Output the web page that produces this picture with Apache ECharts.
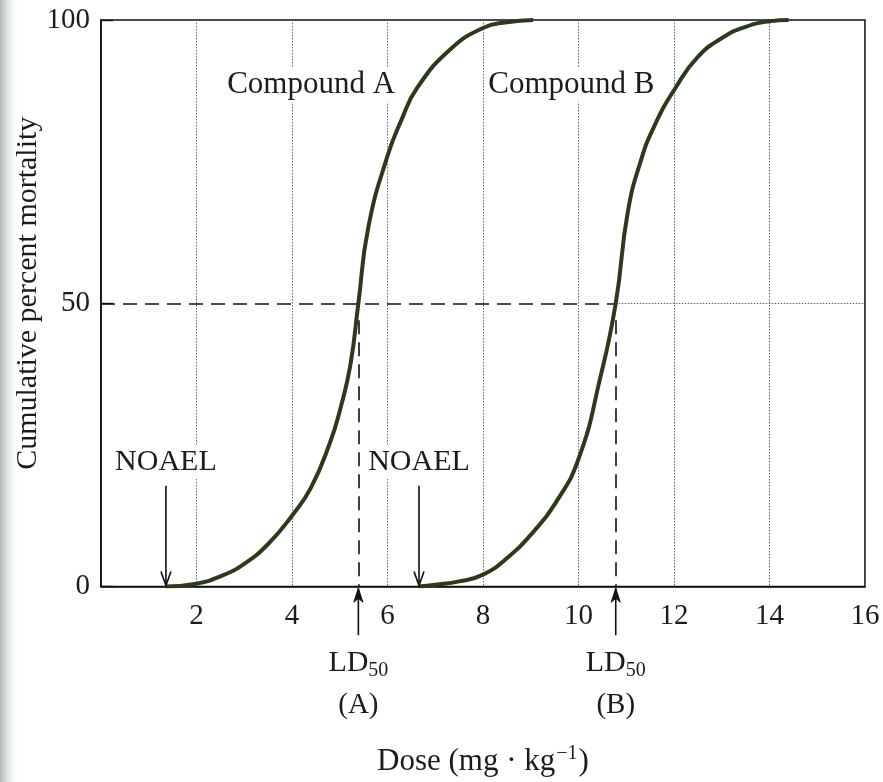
<!DOCTYPE html>
<html><head><meta charset="utf-8">
<script src="https://cdn.jsdelivr.net/npm/echarts@6/dist/echarts.min.js"></script>
<style>html,body{margin:0;padding:0;background:#fff}#c{width:883px;height:782px}</style>
</head><body><div id="c"></div>
<script>
// ---- data ----
const doseA = [1.35, 2, 2.5, 3, 3.5, 4, 4.4, 4.8, 5.0, 5.22, 5.39, 5.6, 6, 6.3, 6.62, 7.3, 8, 8.5, 9.05];
const mortA = [0, 0.5, 1.8, 4, 7.5, 12.5, 17.5, 25.5, 31, 39, 50, 63.5, 76, 82.5, 88, 94.7, 98.6, 99.6, 100];
const doseB = [6.65, 7, 7.5, 8, 8.5, 9.06, 9.5, 10, 10.46, 10.78, 11.03, 11.3, 11.6, 12.03, 12.5, 13.04, 13.5, 14.03, 14.4];
const mortB = [0, 0.3, 0.9, 2.1, 5, 9.7, 14.5, 22.5, 37, 50, 66, 75, 81.5, 88, 93.5, 97, 98.8, 99.8, 100];
const compounds = ['Compound A', 'Compound B'];
const compoundLabelPos = [[4.4, 88.6], [9.85, 88.6]];
const ld50 = [5.39, 10.78];
const ld50Tags = ['(A)', '(B)'];
const noael = [1.36, 6.66];
const xTickStep = 2, xMax = 16, yTickStep = 50, yMax = 100;

const FONT = '"Liberation Serif","Times New Roman",serif';
const TXT = '#1c1c1c';
const CURVE = '#2b3a1b';

const chart = echarts.init(document.getElementById('c'));
const pair = (xs, ys) => xs.map((x, i) => [x, ys[i]]);

const option = {
  backgroundColor: '#ffffff',
  animation: false,
  grid: { left: 101, right: 18, top: 20, bottom: 194, show: true, borderColor: '#111', borderWidth: 1.6, backgroundColor: 'transparent' },
  xAxis: {
    type: 'value', min: 0, max: xMax, interval: xTickStep,
    axisLine: { show: true, lineStyle: { color: '#111', width: 1.6 } },
    axisTick: { show: false },
    splitLine: { show: true, lineStyle: { color: '#666', width: 1, type: [1.5, 1.5] } },
    axisLabel: { margin: 15, color: TXT, fontFamily: FONT, fontSize: 29, formatter: v => v === 0 ? '' : String(v) },
    name: '{a|Dose (mg · kg}{s|−1}{a|)}',
    nameLocation: 'middle', nameGap: 157,
    nameTextStyle: {
      rich: {
        a: { fontFamily: FONT, fontSize: 31, color: TXT, lineHeight: 36 },
        s: { fontFamily: FONT, fontSize: 20, color: TXT, verticalAlign: 'top', lineHeight: 36, padding: [0, 1, 0, 1] }
      }
    }
  },
  yAxis: {
    type: 'value', min: 0, max: yMax, interval: yTickStep,
    axisLine: { show: true, lineStyle: { color: '#111', width: 1.6 } },
    axisTick: { show: true, inside: true, length: 12, lineStyle: { color: '#111', width: 1.4 } },
    splitLine: { show: false },
    axisLabel: { margin: 11, color: TXT, fontFamily: FONT, fontSize: 29 },
    name: 'Cumulative percent mortality',
    nameLocation: 'middle', nameGap: 58, nameRotate: 90, nameMoveOverlap: false,
    nameTextStyle: { fontFamily: FONT, fontSize: 30, color: TXT, padding: [0, 0, 0, 20] }
  },
  series: [
    {
      name: compounds[0], type: 'line', data: pair(doseA, mortA),
      smooth: 0.5, showSymbol: false, symbol: 'none',
      lineStyle: { color: CURVE, width: 4 }, z: 5,
      markLine: {
        silent: true, symbol: ['none', 'none'], label: { show: false },
        data: [
          [{ coord: [0, 50], lineStyle: { type: [14, 8], color: '#111', width: 1.6 } }, { coord: [ld50[1], 50] }],
          [{ coord: [ld50[1], 50], lineStyle: { type: [1.5, 1.5], color: '#666', width: 1 } }, { coord: [xMax, 50] }],
          [{ coord: [ld50[0], 47], lineStyle: { type: [14, 8], color: '#111', width: 1.6 } }, { coord: [ld50[0], 0] }],
          [{ coord: [ld50[1], 47], lineStyle: { type: [14, 8], color: '#111', width: 1.6 } }, { coord: [ld50[1], 0] }]
        ]
      }
    },
    {
      name: compounds[1], type: 'line', data: pair(doseB, mortB),
      smooth: 0.5, showSymbol: false, symbol: 'none',
      lineStyle: { color: CURVE, width: 4 }, z: 5
    }
  ]
};
chart.setOption(option);

// ---- annotations placed through the chart's own coordinate conversion ----
const P = (x, y) => chart.convertToPixel({ gridIndex: 0 }, [x, y]);
const g = [];
// scan shadow at the left edge
g.push({ type: 'rect', left: 0, top: 0, z: -10, shape: { width: 20, height: 782 },
  style: { fill: new echarts.graphic.LinearGradient(0, 0, 1, 0, [
    { offset: 0, color: 'rgba(150,162,160,0.75)' }, { offset: 1, color: 'rgba(255,255,255,0)' }]) } });

compounds.forEach((name, i) => {
  const [x, y] = P(compoundLabelPos[i][0], compoundLabelPos[i][1]);
  g.push({ type: 'text', x, y, z: 20, style: { text: name, font: '31px ' + FONT, fill: TXT,
    align: 'center', verticalAlign: 'middle', backgroundColor: '#fff', padding: [2, 3] } });
});

noael.forEach(v => {
  const [tx, ty] = P(v, 22);
  g.push({ type: 'text', x: tx, y: ty, z: 20, style: { text: 'NOAEL', font: '30px ' + FONT, fill: TXT,
    align: 'center', verticalAlign: 'middle', backgroundColor: '#fff', padding: [1, 2] } });
  const [x1, y1] = P(v, 17.8);
  const [x2, y2] = P(v, 0);
  g.push({ type: 'line', z: 20, shape: { x1, y1, x2, y2: y2 - 1 }, style: { stroke: '#111', lineWidth: 1.6 } });
  g.push({ type: 'polyline', z: 20, shape: { points: [[x2 - 5, y2 - 15], [x2, y2 - 1], [x2 + 5, y2 - 15]] },
    style: { stroke: '#111', lineWidth: 1.6, fill: null } });
});

ld50.forEach((v, i) => {
  const [x1, y1] = P(v, -8.6);
  const [x2, y2] = P(v, -0.3);
  g.push({ type: 'line', z: 20, shape: { x1, y1, x2, y2 }, style: { stroke: '#111', lineWidth: 1.6 } });
  g.push({ type: 'polygon', z: 20, shape: { points: [[x2 - 4.5, y2 + 14], [x2, y2], [x2 + 4.5, y2 + 14], [x2, y2 + 10]] },
    style: { fill: '#111', stroke: '#111', lineWidth: 1 } });
  const [lx, ly] = P(v, -13.6);
  g.push({ type: 'text', x: lx, y: ly, z: 20, style: {
    text: '{a|LD}{b|50}', align: 'center', verticalAlign: 'middle',
    rich: { a: { font: '30px ' + FONT, fill: TXT, lineHeight: 34 },
            b: { font: '20px ' + FONT, fill: TXT, verticalAlign: 'bottom', lineHeight: 34, padding: [10, 0, 0, 0] } } } });
  const [ax, ay] = P(v, -21);
  g.push({ type: 'text', x: ax, y: ay, z: 20, style: { text: ld50Tags[i], font: '29px ' + FONT, fill: TXT,
    align: 'center', verticalAlign: 'middle' } });
});

chart.setOption({ graphic: { elements: g } });
</script>
</body></html>
